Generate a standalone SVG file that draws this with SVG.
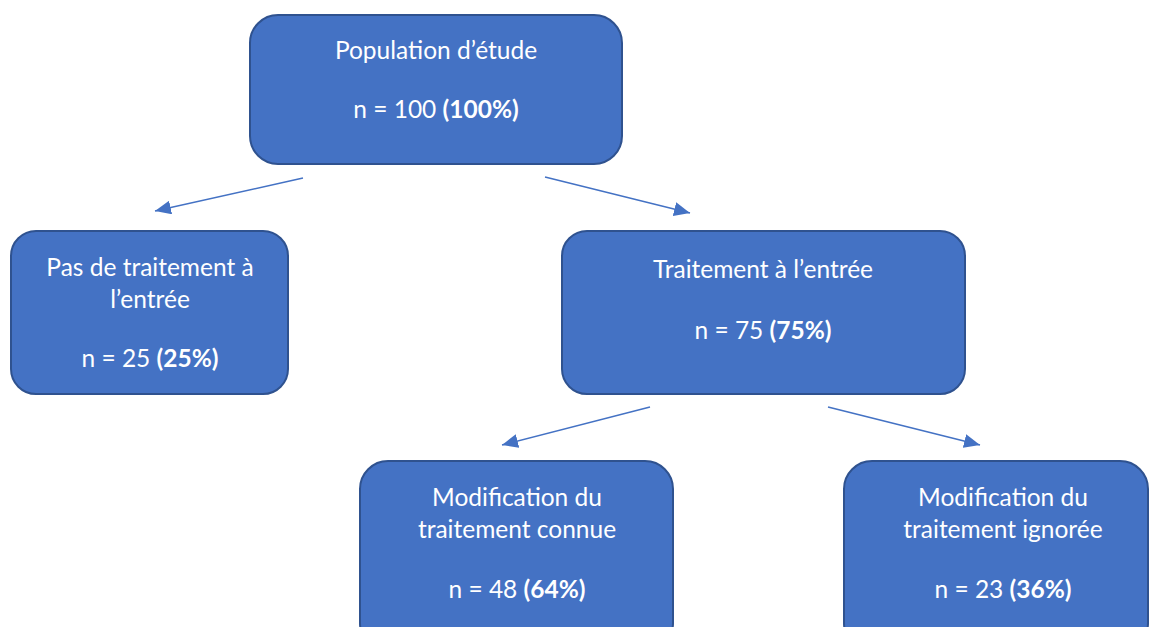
<svg xmlns="http://www.w3.org/2000/svg" width="1149" height="627" viewBox="0 0 1149 627">
<defs>
<style>
.box{fill:#4472C4;stroke:#2F528F;stroke-width:2}
.t{font-family:Lato,"Liberation Sans",sans-serif;font-size:24.5px;fill:#ffffff;text-anchor:middle}
.b{font-weight:bold}
.c{stroke:#4472C4;stroke-width:1.5;fill:none;marker-end:url(#ah)}
</style>
<marker id="ah" viewBox="0 0 10 10" refX="10" refY="5" markerWidth="16" markerHeight="14" markerUnits="userSpaceOnUse" orient="auto" preserveAspectRatio="none">
<path d="M0,0 L10,5 L0,10 z" fill="#4472C4"/>
</marker>
</defs>
<rect width="1149" height="627" fill="#ffffff"/>
<g id="connectors">
<line class="c" x1="303" y1="178" x2="155" y2="211"/>
<line class="c" x1="545" y1="177" x2="690" y2="213"/>
<line class="c" x1="650" y1="407" x2="502" y2="445"/>
<line class="c" x1="828" y1="407" x2="980" y2="445"/>
</g>
<g id="n-population">
<rect class="box" x="250" y="15" width="372" height="149" rx="28"/>
<text class="t" x="436" y="59">Population d’étude</text>
<text class="t" x="436" y="118">n = 100 <tspan class="b">(100%)</tspan></text>
</g>
<g id="n-pas-traitement">
<rect class="box" x="11" y="231" width="277" height="163" rx="25"/>
<text class="t" x="150" y="276">Pas de traitement à</text>
<text class="t" x="150" y="308">l’entrée</text>
<text class="t" x="150" y="367">n = 25 <tspan class="b">(25%)</tspan></text>
</g>
<g id="n-traitement">
<rect class="box" x="562" y="231" width="403" height="163" rx="25"/>
<text class="t" x="763" y="278">Traitement à l’entrée</text>
<text class="t" x="763" y="339">n = 75 <tspan class="b">(75%)</tspan></text>
</g>
<g id="n-connue">
<rect class="box" x="360" y="461" width="313" height="190" rx="28"/>
<text class="t" x="517" y="506">Modification du</text>
<text class="t" x="517" y="538">traitement connue</text>
<text class="t" x="517" y="598">n = 48 <tspan class="b">(64%)</tspan></text>
</g>
<g id="n-ignoree">
<rect class="box" x="844" y="461" width="304" height="190" rx="28"/>
<text class="t" x="1003" y="506">Modification du</text>
<text class="t" x="1003" y="538">traitement ignorée</text>
<text class="t" x="1003" y="598">n = 23 <tspan class="b">(36%)</tspan></text>
</g>
</svg>
